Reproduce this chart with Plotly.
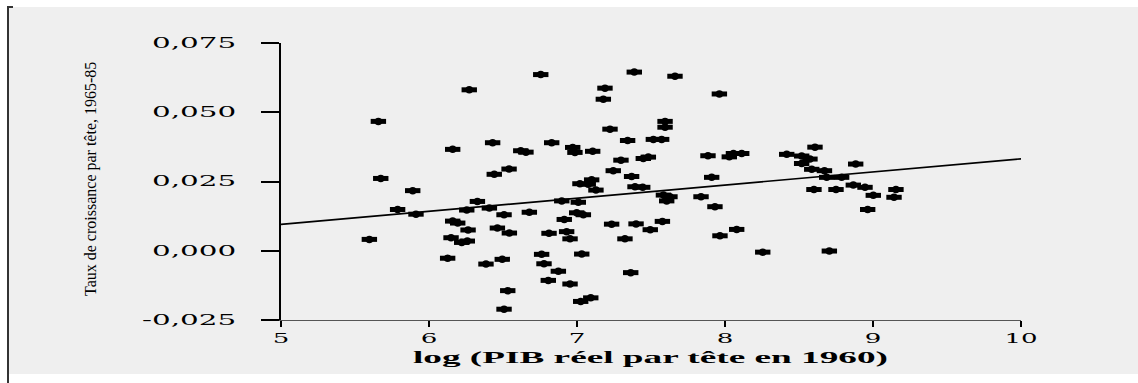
import plotly.graph_objects as go

# ---- data ----
log_gdp_1960 = [
    6.272, 5.658, 6.430, 6.160, 6.620, 6.655, 6.541, 6.441, 5.674, 5.890,
    6.327, 5.788, 5.912, 6.255, 6.408, 6.507, 6.678, 6.160, 6.194, 6.264,
    6.462, 6.543, 5.597, 6.149, 6.221, 6.259, 6.126, 6.385, 6.495, 6.532,
    6.507,
    6.755, 7.387, 7.662, 7.189, 7.178, 7.962, 7.595, 7.595, 7.223, 6.829,
    7.342, 7.516, 7.572, 6.971, 6.986, 7.106, 7.885, 8.029, 8.057, 8.113,
    7.297, 7.448, 7.482, 7.245, 7.369, 7.910, 7.099, 7.020, 7.076, 7.128,
    7.392, 7.444, 6.897, 7.009, 7.584, 7.628, 7.606, 7.838, 7.932, 6.998,
    7.043, 6.914, 7.234, 7.399, 7.577, 7.495, 6.811, 6.930, 6.953, 7.324,
    7.966, 8.079, 6.761, 7.032, 6.777, 6.874, 7.363, 6.806, 6.953, 7.025,
    7.093,
    8.417, 8.608, 8.518, 8.574, 8.518, 8.586, 8.672, 8.883, 8.687, 8.788,
    8.867, 8.946, 8.601, 8.750, 9.002, 9.155, 9.142, 8.964, 8.255, 8.705,
]
growth_1965_85 = [
    0.0581, 0.0467, 0.0390, 0.0366, 0.0361, 0.0356, 0.0295, 0.0276, 0.0261, 0.0217,
    0.0178, 0.0149, 0.0132, 0.0147, 0.0154, 0.0130, 0.0139, 0.0107, 0.0100, 0.0075,
    0.0082, 0.0064, 0.0041, 0.0047, 0.0030, 0.0035, -0.0027, -0.0048, -0.0031, -0.0144,
    -0.0211,
    0.0636, 0.0645, 0.0630, 0.0587, 0.0547, 0.0566, 0.0467, 0.0446, 0.0439, 0.0390,
    0.0398, 0.0402, 0.0402, 0.0373, 0.0355, 0.0359, 0.0343, 0.0339, 0.0351, 0.0351,
    0.0327, 0.0333, 0.0338, 0.0289, 0.0268, 0.0265, 0.0256, 0.0242, 0.0240, 0.0219,
    0.0231, 0.0229, 0.0180, 0.0175, 0.0201, 0.0195, 0.0180, 0.0195, 0.0159, 0.0137,
    0.0130, 0.0113, 0.0096, 0.0097, 0.0106, 0.0076, 0.0063, 0.0069, 0.0043, 0.0043,
    0.0054, 0.0077, -0.0013, -0.0012, -0.0047, -0.0074, -0.0079, -0.0107, -0.0120, -0.0183,
    -0.0170,
    0.0348, 0.0374, 0.0342, 0.0331, 0.0315, 0.0294, 0.0289, 0.0313, 0.0265, 0.0265,
    0.0237, 0.0229, 0.0221, 0.0221, 0.0200, 0.0221, 0.0193, 0.0149, -0.0005, -0.0001,
]
fit_x = [5, 10]
fit_y = [0.0095, 0.0332]

x_tick_values = [5, 6, 7, 8, 9, 10]
x_tick_labels = ["5", "6", "7", "8", "9", "10"]
y_tick_values = [-0.025, 0.0, 0.025, 0.05, 0.075]
y_tick_labels = ["-0,025", "0,000", "0,025", "0,050", "0,075"]
x_title = "log (PIB réel par tête en 1960)"
y_title = "Taux de croissance par tête, 1965-85"

# ---- layout geometry ----
W, H = 1138, 383
L, R, T, B = 281, 117, 43, 63
PW, PH = W - L - R, H - T - B


def px_x(p):
    return (p - L) / PW


def px_y(p):
    return (H - B - p) / PH


fig = go.Figure()
fig.add_trace(go.Scatter(x=fit_x, y=fit_y, mode="lines",
                         line=dict(color="black", width=1.7),
                         hoverinfo="skip", showlegend=False))
fig.add_trace(go.Scatter(x=log_gdp_1960, y=growth_1965_85, mode="markers",
                         marker=dict(symbol="line-ew", size=11,
                                     line=dict(color="black", width=5)),
                         showlegend=False))
fig.add_trace(go.Scatter(x=log_gdp_1960, y=growth_1965_85, mode="markers",
                         marker=dict(symbol="circle", size=7.5, color="black",
                                     line=dict(width=0)),
                         showlegend=False))

serif = "DejaVu Serif"
fig.update_layout(
    width=W, height=H,
    margin=dict(l=L, r=R, t=T, b=B, pad=0),
    paper_bgcolor="white",
    plot_bgcolor="#efefef",
    showlegend=False,
    xaxis=dict(range=[5, 10], tickvals=x_tick_values, ticktext=x_tick_labels,
               showline=True, linecolor="#555", linewidth=1,
               ticks="outside", ticklen=6, tickwidth=1.5, tickcolor="black",
               tickfont=dict(family=serif, size=13, color="black"),
               showgrid=False, zeroline=False, fixedrange=True),
    yaxis=dict(range=[-0.025, 0.075], tickvals=y_tick_values, ticktext=y_tick_labels,
               showline=True, linecolor="black", linewidth=2,
               ticks="outside", ticklen=18, tickwidth=1.5, tickcolor="black",
               ticklabelstandoff=22,
               tickfont=dict(family=serif, size=14, color="black"),
               showgrid=False, zeroline=False, fixedrange=True),
    shapes=[
        dict(type="rect", xref="paper", yref="paper",
             x0=px_x(9), x1=px_x(W), y0=px_y(374), y1=px_y(7),
             fillcolor="#efefef", line=dict(width=0), layer="below"),
        dict(type="line", xref="paper", yref="paper",
             x0=px_x(8), x1=px_x(8), y0=px_y(383), y1=px_y(7),
             line=dict(color="#333", width=2)),
        dict(type="line", xref="paper", yref="paper",
             x0=px_x(7), x1=px_x(13), y0=px_y(7), y1=px_y(7),
             line=dict(color="#333", width=2)),
    ],
    annotations=[
        dict(text=y_title, xref="paper", yref="paper",
             x=px_x(91), y=px_y(179), xanchor="center", yanchor="middle",
             textangle=-90, showarrow=False,
             font=dict(family="Liberation Serif", size=16, color="black")),
        dict(text=x_title, xref="paper", yref="paper",
             x=px_x(650), y=px_y(357), xanchor="center", yanchor="middle",
             showarrow=False,
             font=dict(family="Liberation Serif", size=17, color="black", weight="bold")),
    ],
)

post = """
document.body.style.margin='0';
var gd=document.getElementById('{plot_id}');
function st(sel,f){gd.querySelectorAll(sel).forEach(function(t){
  var w=t.getComputedTextLength();
  t.setAttribute('textLength',(w*f).toFixed(1));
  t.setAttribute('lengthAdjust','spacingAndGlyphs');});}
st('.xtick text',2.0);
st('.ytick text',2.1);
var a=gd.querySelectorAll('.annotation-text');
if(a.length>1){a[1].setAttribute('textLength','475');a[1].setAttribute('lengthAdjust','spacingAndGlyphs');}
"""

fig.write_html("out.html", post_script=post, config={"displayModeBar": False})
